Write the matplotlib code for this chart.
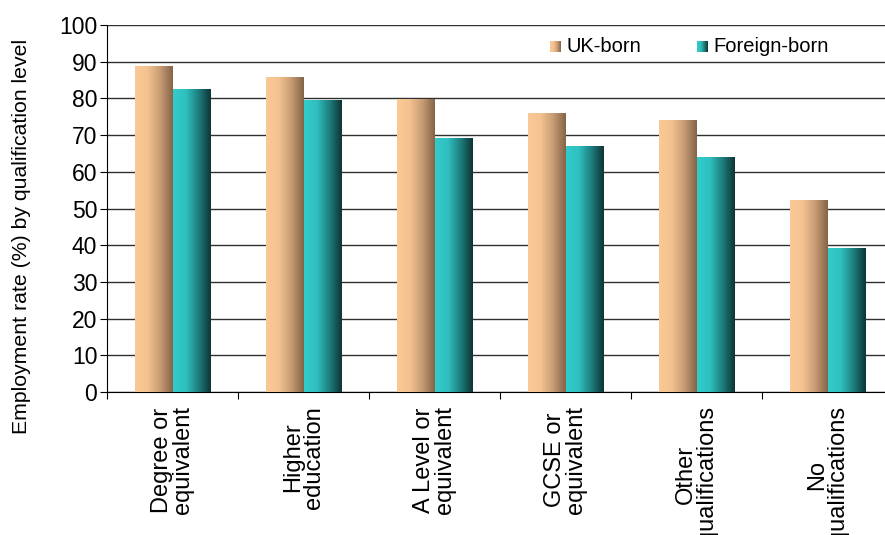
import numpy as np
import matplotlib
matplotlib.use("Agg")
import matplotlib.pyplot as plt
from matplotlib.colors import LinearSegmentedColormap

# employment rate by qualification level
categories = ["Degree or\nequivalent", "Higher\neducation", "A Level or\nequivalent",
              "GCSE or\nequivalent", "Other\nqualifications", "No\nqualifications"]
uk_born = [88.8, 85.8, 79.6, 76.0, 74.1, 52.3]
foreign_born = [82.3, 79.3, 69.2, 67.0, 64.0, 39.0]

uk_cmap = LinearSegmentedColormap.from_list("uk", ["#FAC995", "#F3C290", "#C89C74", "#856548"])
fb_cmap = LinearSegmentedColormap.from_list("fb", ["#33CBCB", "#2FC0C0", "#1E8080", "#0E3535"])
grad = np.linspace(0, 1, 64).reshape(1, -1)

plt.rcParams["font.family"] = "Liberation Sans"
fig = plt.figure(figsize=(8.85, 5.35), dpi=100)
ax = fig.add_axes([107 / 885, 1 - 392 / 535, 786 / 885, 367 / 535])

w = 0.285
x = np.arange(len(categories))
for i in x:
    for val, cmap, off in [(uk_born[i], uk_cmap, -w), (foreign_born[i], fb_cmap, 0)]:
        x0 = i + 0.5 + off
        ax.imshow(grad, cmap=cmap, aspect="auto", extent=[x0, x0 + w, 0, val],
                  interpolation="bilinear", zorder=3)

ax.set_xlim(0, len(categories))
ax.set_ylim(0, 100)
ax.set_yticks(range(0, 101, 10))
ax.set_xticks(range(len(categories) + 1))
ax.set_xticklabels([])
ax.yaxis.grid(True, color="#303030", linewidth=1)
ax.set_axisbelow(True)
for s in ["top", "right"]:
    ax.spines[s].set_visible(False)
ax.tick_params(axis="y", length=5, labelsize=16.5, pad=2)
ax.tick_params(axis="x", length=5)

for i, lab in enumerate(categories):
    ax.text(i + 0.5, -3.8, lab, rotation=90, ha="center", va="top",
            multialignment="center", fontsize=17, linespacing=0.95)

ax.set_ylabel("Employment rate (%) by qualification level", fontsize=15.3)
ax.yaxis.set_label_coords(-76 / 786, 156 / 367)

# legend with gradient swatches
for (lx, cmap, label) in [(550, uk_cmap, "UK-born"), (697, fb_cmap, "Foreign-born")]:
    sw = fig.add_axes([lx / 885, 1 - 52 / 535, 11 / 885, 11 / 535])
    sw.imshow(grad, cmap=cmap, aspect="auto")
    sw.axis("off")
    fig.text((lx + 16) / 885, 1 - 46.5 / 535, label, fontsize=14.5,
             va="center", ha="left")

fig.savefig("out.png", dpi=100)
